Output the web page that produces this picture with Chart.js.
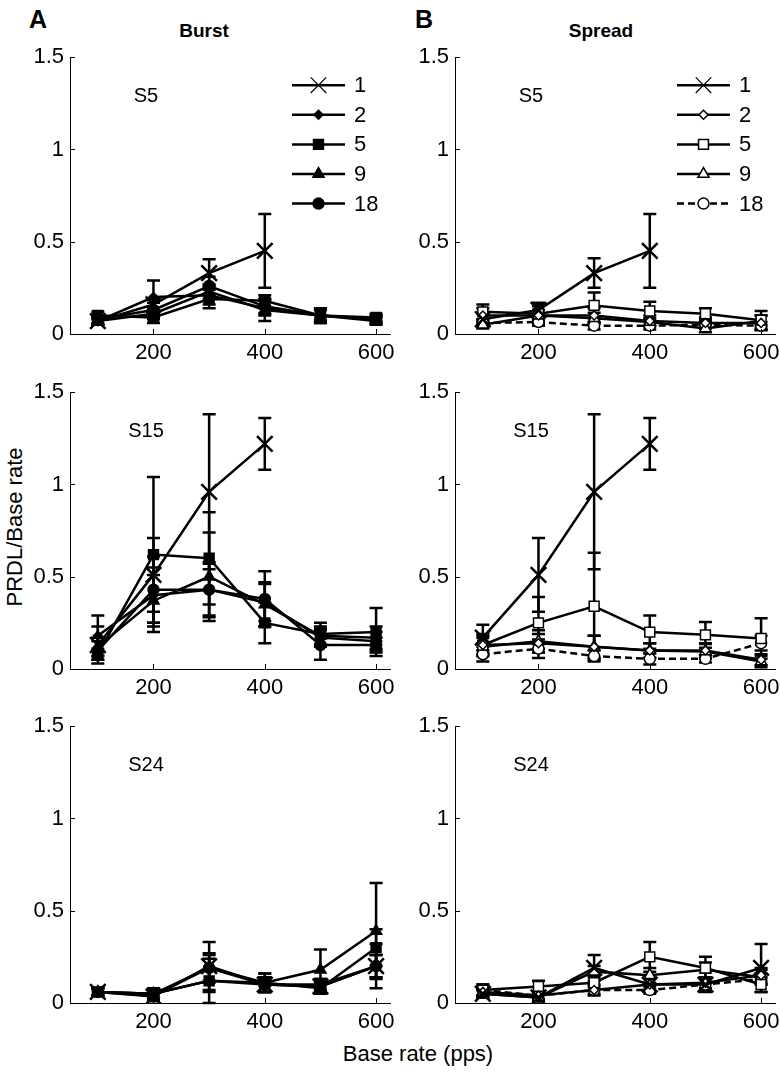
<!DOCTYPE html>
<html>
<head>
<meta charset="utf-8">
<script src="https://cdn.jsdelivr.net/npm/chart.js@4/dist/chart.umd.min.js"></script>
<style>
html,body{margin:0;padding:0;background:#fff;}
body{width:780px;height:1078px;overflow:hidden;position:relative;font-family:'Liberation Sans',Arial,Helvetica,sans-serif;}
.t{position:absolute;transform:translate(-50%,-50%);line-height:1;white-space:nowrap;color:#000;}
canvas{position:absolute;}
</style>
</head>
<body>
<div class="t" style="left:38px;top:19px;font-size:25px;font-weight:bold;">A</div>
<div class="t" style="left:424px;top:19px;font-size:25px;font-weight:bold;">B</div>
<div class="t" style="left:204px;top:30px;font-size:19px;font-weight:bold;">Burst</div>
<div class="t" style="left:601px;top:30px;font-size:19px;font-weight:bold;">Spread</div>
<div class="t" style="left:15px;top:527px;font-size:22px;transform:translate(-50%,-50%) rotate(-90deg);">PRDL/Base rate</div>
<div class="t" style="left:418px;top:1054px;font-size:22px;">Base rate (pps)</div>
<script>
// ---------- data ----------
const baseRates = [100, 200, 300, 400, 500, 600];
const xTickValues = [200, 400, 600];
const yTickValues = [0, 0.5, 1, 1.5];
const yTickLabels = ['0', '0.5', '1', '1.5'];
const seriesNames = ['1', '2', '5', '9', '18'];

// Burst, S5
const burstS5_1 = [0.07, 0.16, 0.33, 0.45, null, null];
const burstS5_2 = [0.07, 0.20, 0.21, 0.14, 0.10, 0.08];
const burstS5_5 = [0.10, 0.09, 0.19, 0.18, 0.10, 0.09];
const burstS5_9 = [0.07, 0.11, 0.23, 0.13, 0.10, 0.07];
const burstS5_18 = [0.08, 0.13, 0.26, 0.15, 0.10, 0.08];
const burstS5_1_err = [0.02, 0.03, 0.075, 0.20, null, null];
const burstS5_2_err = [0.02, 0.09, 0.05, 0.04, 0.04, 0.02];
const burstS5_5_err = [0.02, 0.03, 0.05, 0.03, 0.03, 0.02];
const burstS5_9_err = [0.02, 0.03, 0.04, 0.06, 0.03, 0.02];
const burstS5_18_err = [0.02, 0.04, 0.05, 0.04, 0.04, 0.02];

// Spread, S5
const spreadS5_1 = [0.08, 0.13, 0.33, 0.45, null, null];
const spreadS5_2 = [0.10, 0.10, 0.10, 0.07, 0.06, 0.06];
const spreadS5_5 = [0.12, 0.11, 0.155, 0.125, 0.11, 0.075];
const spreadS5_9 = [0.05, 0.10, 0.085, 0.065, 0.03, 0.07];
const spreadS5_18 = [0.06, 0.065, 0.045, 0.045, 0.05, 0.045];
const spreadS5_1_err = [0.03, 0.04, 0.08, 0.20, null, null];
const spreadS5_2_err = [0.04, 0.05, 0.04, 0.03, 0.03, 0.04];
const spreadS5_5_err = [0.04, 0.05, 0.07, 0.05, 0.03, 0.05];
const spreadS5_9_err = [0.02, 0.03, 0.03, 0.02, 0.02, 0.03];
const spreadS5_18_err = [0.02, 0.02, 0.02, 0.02, 0.02, 0.02];

// Burst, S15
const burstS15_1 = [0.13, 0.51, 0.96, 1.22, null, null];
const burstS15_2 = [0.18, 0.40, 0.43, 0.36, 0.17, 0.15];
const burstS15_5 = [0.08, 0.62, 0.60, 0.25, 0.19, 0.20];
const burstS15_9 = [0.12, 0.37, 0.50, 0.35, 0.18, 0.17];
const burstS15_18 = [0.10, 0.43, 0.43, 0.38, 0.13, 0.13];
const burstS15_1_err = [0.10, 0.20, 0.42, 0.14, null, null];
const burstS15_2_err = [0.11, 0.15, 0.14, 0.10, 0.05, 0.05];
const burstS15_5_err = [0.03, 0.42, 0.25, 0.11, 0.06, 0.13];
const burstS15_9_err = [0.05, 0.14, 0.24, 0.12, 0.05, 0.06];
const burstS15_18_err = [0.05, 0.18, 0.15, 0.15, 0.08, 0.04];

// Spread, S15
const spreadS15_1 = [0.17, 0.51, 0.96, 1.22, null, null];
const spreadS15_2 = [0.13, 0.14, 0.12, 0.10, 0.10, 0.05];
const spreadS15_5 = [0.13, 0.25, 0.34, 0.20, 0.185, 0.165];
const spreadS15_9 = [0.12, 0.15, 0.12, 0.10, 0.095, 0.04];
const spreadS15_18 = [0.08, 0.11, 0.07, 0.055, 0.055, 0.14];
const spreadS15_1_err = [0.07, 0.20, 0.42, 0.14, null, null];
const spreadS15_2_err = [0.05, 0.05, 0.06, 0.04, 0.04, 0.03];
const spreadS15_5_err = [0.06, 0.14, 0.29, 0.09, 0.07, 0.11];
const spreadS15_9_err = [0.05, 0.06, 0.06, 0.04, 0.04, 0.03];
const spreadS15_18_err = [0.04, 0.05, 0.03, 0.03, 0.02, 0.04];

// Burst, S24
const burstS24_1 = [0.06, 0.035, 0.20, 0.10, 0.09, 0.20];
const burstS24_2 = [0.06, 0.05, 0.12, 0.10, 0.10, 0.20];
const burstS24_5 = [0.06, 0.05, 0.12, 0.11, 0.08, 0.30];
const burstS24_9 = [0.06, 0.05, 0.19, 0.11, 0.18, 0.39];
const burstS24_18 = [0.06, 0.04, 0.19, 0.10, 0.09, 0.20];
const burstS24_1_err = [0.02, 0.02, 0.13, 0.04, 0.04, 0.12];
const burstS24_2_err = [0.02, 0.03, 0.06, 0.04, 0.03, 0.06];
const burstS24_5_err = [0.02, 0.03, 0.12, 0.05, 0.03, 0.10];
const burstS24_9_err = [0.02, 0.03, 0.08, 0.05, 0.11, 0.26];
const burstS24_18_err = [0.02, 0.03, 0.07, 0.04, 0.03, 0.06];

// Spread, S24
const spreadS24_1 = [0.05, 0.03, 0.19, 0.10, 0.10, 0.19];
const spreadS24_2 = [0.06, 0.04, 0.07, 0.10, 0.11, 0.15];
const spreadS24_5 = [0.07, 0.09, 0.11, 0.25, 0.19, 0.10];
const spreadS24_9 = [0.05, 0.03, 0.17, 0.15, 0.18, 0.14];
const spreadS24_18 = [0.07, 0.04, 0.07, 0.07, 0.10, 0.13];
const spreadS24_1_err = [0.02, 0.02, 0.07, 0.04, 0.04, 0.13];
const spreadS24_2_err = [0.02, 0.02, 0.03, 0.03, 0.03, 0.04];
const spreadS24_5_err = [0.03, 0.03, 0.04, 0.08, 0.06, 0.04];
const spreadS24_9_err = [0.02, 0.02, 0.03, 0.04, 0.04, 0.04];
const spreadS24_18_err = [0.03, 0.02, 0.02, 0.02, 0.03, 0.03];

// ---------- layout ----------
const FONT = "'Liberation Sans', Arial, Helvetica, sans-serif";
const PW = 320, PH = 280;
const PAD_L = 70, PAD_T = 16, PAD_R = 14, PAD_B = 42;

const panels = [
  {left: 70,  top: 54,  label: 'S5',  open: false, legend: true,
   means: [burstS5_1, burstS5_2, burstS5_5, burstS5_9, burstS5_18],
   errs: [burstS5_1_err, burstS5_2_err, burstS5_5_err, burstS5_9_err, burstS5_18_err]},
  {left: 455, top: 54,  label: 'S5',  open: true, legend: true,
   means: [spreadS5_1, spreadS5_2, spreadS5_5, spreadS5_9, spreadS5_18],
   errs: [spreadS5_1_err, spreadS5_2_err, spreadS5_5_err, spreadS5_9_err, spreadS5_18_err]},
  {left: 70,  top: 389, label: 'S15', open: false, legend: false,
   means: [burstS15_1, burstS15_2, burstS15_5, burstS15_9, burstS15_18],
   errs: [burstS15_1_err, burstS15_2_err, burstS15_5_err, burstS15_9_err, burstS15_18_err]},
  {left: 455, top: 389, label: 'S15', open: true, legend: false,
   means: [spreadS15_1, spreadS15_2, spreadS15_5, spreadS15_9, spreadS15_18],
   errs: [spreadS15_1_err, spreadS15_2_err, spreadS15_5_err, spreadS15_9_err, spreadS15_18_err]},
  {left: 70,  top: 723, label: 'S24', open: false, legend: false,
   means: [burstS24_1, burstS24_2, burstS24_5, burstS24_9, burstS24_18],
   errs: [burstS24_1_err, burstS24_2_err, burstS24_5_err, burstS24_9_err, burstS24_18_err]},
  {left: 455, top: 723, label: 'S24', open: true, legend: false,
   means: [spreadS24_1, spreadS24_2, spreadS24_5, spreadS24_9, spreadS24_18],
   errs: [spreadS24_1_err, spreadS24_2_err, spreadS24_5_err, spreadS24_9_err, spreadS24_18_err]}
];

const markerStyles = [
  {pointStyle: 'crossRot', radius: 11},
  {pointStyle: 'rectRot', radius: 4.5},
  {pointStyle: 'rect', radius: 7},
  {pointStyle: 'triangle', radius: 6.5},
  {pointStyle: 'circle', radius: 5.5}
];

function drawMarker(ctx, style, x, y, open, legendX) {
  const r = style.radius;
  ctx.save();
  ctx.strokeStyle = '#000';
  ctx.fillStyle = open ? '#fff' : '#000';
  ctx.lineWidth = 1.5;
  ctx.beginPath();
  switch (style.pointStyle) {
    case 'crossRot': {
      const h = r * Math.SQRT1_2;
      ctx.lineWidth = legendX ? 1.2 : 2.5;
      ctx.moveTo(x - h, y - h); ctx.lineTo(x + h, y + h);
      ctx.moveTo(x - h, y + h); ctx.lineTo(x + h, y - h);
      ctx.stroke();
      break;
    }
    case 'rectRot':
      ctx.moveTo(x, y - r); ctx.lineTo(x + r, y); ctx.lineTo(x, y + r); ctx.lineTo(x - r, y); ctx.closePath();
      ctx.fill(); ctx.stroke();
      break;
    case 'rect': {
      const s = r * Math.SQRT1_2;
      ctx.rect(x - s, y - s, 2 * s, 2 * s);
      ctx.fill(); ctx.stroke();
      break;
    }
    case 'triangle': {
      ctx.moveTo(x, y - r);
      ctx.lineTo(x + r * Math.sin(2 * Math.PI / 3), y - r * Math.cos(2 * Math.PI / 3));
      ctx.lineTo(x + r * Math.sin(4 * Math.PI / 3), y - r * Math.cos(4 * Math.PI / 3));
      ctx.closePath();
      ctx.fill(); ctx.stroke();
      break;
    }
    default:
      ctx.arc(x, y, r, 0, Math.PI * 2);
      ctx.fill(); ctx.stroke();
  }
  ctx.restore();
}

// error bars, drawn through the chart's scales
const errorBarPlugin = {
  id: 'errorBars',
  beforeDatasetsDraw(chart) {
    const {ctx, scales: {x, y}} = chart;
    ctx.save();
    ctx.strokeStyle = '#000';
    ctx.lineWidth = 2.5;
    chart.data.datasets.forEach(ds => {
      if (!ds.errors) return;
      ds.data.forEach((pt, j) => {
        const e = ds.errors[j];
        if (pt.y == null || e == null) return;
        const px = x.getPixelForValue(pt.x);
        const lo = y.getPixelForValue(Math.max(0, pt.y - e));
        const hi = y.getPixelForValue(pt.y + e);
        ctx.beginPath();
        ctx.moveTo(px, lo); ctx.lineTo(px, hi);
        ctx.moveTo(px - 6.5, lo); ctx.lineTo(px + 6.5, lo);
        ctx.moveTo(px - 6.5, hi); ctx.lineTo(px + 6.5, hi);
        ctx.stroke();
      });
    });
    ctx.restore();
  }
};

// inward tick marks
const innerTickPlugin = {
  id: 'innerTicks',
  afterDraw(chart) {
    const {ctx, chartArea: a, scales: {x, y}} = chart;
    ctx.save();
    ctx.strokeStyle = '#000';
    ctx.lineWidth = 1;
    ctx.beginPath();
    x.ticks.forEach(t => {
      const px = Math.round(x.getPixelForValue(t.value)) + 0.5;
      ctx.moveTo(px, a.bottom); ctx.lineTo(px, a.bottom - 5);
    });
    y.ticks.forEach(t => {
      const py = Math.round(y.getPixelForValue(t.value)) + 0.5;
      ctx.moveTo(a.left, py); ctx.lineTo(a.left + 5, py);
    });
    ctx.stroke();
    ctx.restore();
  }
};

// legend in the upper right of the plot
const lineLegendPlugin = {
  id: 'lineLegend',
  afterDraw(chart, args, opts) {
    if (!opts.show) return;
    const {ctx, chartArea: a} = chart;
    ctx.save();
    chart.data.datasets.forEach((ds, i) => {
      const yy = a.top + 28 + i * 29.6;
      const x0 = a.left + 222, x1 = a.left + 275, xm = (x0 + x1) / 2;
      ctx.strokeStyle = '#000';
      ctx.lineWidth = 2.5;
      ctx.setLineDash(ds.borderDash || []);
      ctx.beginPath(); ctx.moveTo(x0, yy); ctx.lineTo(x1, yy); ctx.stroke();
      ctx.setLineDash([]);
      drawMarker(ctx, markerStyles[i], xm, yy, opts.open, true);
      ctx.fillStyle = '#000';
      ctx.font = '22px ' + FONT;
      ctx.textAlign = 'left';
      ctx.textBaseline = 'middle';
      ctx.fillText(ds.label, a.left + 284, yy + 1);
    });
    ctx.restore();
  }
};

function makePanel(p) {
  const cv = document.createElement('canvas');
  const W = PW + PAD_L + PAD_R, H = PH + PAD_T + PAD_B;
  cv.width = W; cv.height = H;
  cv.style.width = W + 'px'; cv.style.height = H + 'px';
  cv.style.left = (p.left - PAD_L) + 'px';
  cv.style.top = (p.top - PAD_T) + 'px';
  document.body.appendChild(cv);

  const lab = document.createElement('div');
  lab.className = 't';
  lab.style.left = (p.left + 76) + 'px';
  lab.style.top = (p.top + 41) + 'px';
  lab.style.fontSize = '20px';
  lab.textContent = p.label;
  document.body.appendChild(lab);

  const datasets = seriesNames.map((name, i) => ({
    label: name,
    data: baseRates.map((xv, j) => ({x: xv, y: p.means[i][j]})),
    errors: p.errs[i],
    borderColor: '#000',
    borderWidth: 2.5,
    borderDash: (p.open && name === '18') ? [7, 4] : [],
    tension: 0,
    fill: false,
    spanGaps: false,
    pointStyle: markerStyles[i].pointStyle,
    pointRadius: markerStyles[i].radius,
    pointHoverRadius: markerStyles[i].radius,
    pointBackgroundColor: p.open ? '#fff' : '#000',
    pointBorderColor: '#000',
    pointBorderWidth: i === 0 ? 2.5 : 1.5
  }));

  new Chart(cv, {
    type: 'line',
    data: {datasets},
    options: {
      responsive: false,
      animation: false,
      devicePixelRatio: 1,
      events: [],
      layout: {padding: {top: PAD_T, right: PAD_R, left: 0, bottom: 0}},
      plugins: {
        legend: {display: false},
        tooltip: {enabled: false},
        lineLegend: {show: p.legend, open: p.open}
      },
      scales: {
        x: {
          type: 'linear', min: 50, max: 625,
          afterBuildTicks: s => { s.ticks = xTickValues.map(v => ({value: v})); },
          afterFit: s => { s.height = PAD_B; },
          grid: {display: false, drawTicks: false},
          border: {display: true, color: '#000', width: 1},
          ticks: {color: '#000', font: {family: FONT, size: 22}, padding: 6, maxRotation: 0, autoSkip: false}
        },
        y: {
          type: 'linear', min: 0, max: 1.5,
          afterBuildTicks: s => { s.ticks = yTickValues.map(v => ({value: v})); },
          afterFit: s => { s.width = PAD_L; },
          grid: {display: false, drawTicks: false},
          border: {display: true, color: '#000', width: 1},
          ticks: {
            color: '#000', font: {family: FONT, size: 22}, padding: 6,
            callback: (v) => yTickLabels[yTickValues.indexOf(v)] ?? String(v)
          }
        }
      }
    },
    plugins: [errorBarPlugin, innerTickPlugin, lineLegendPlugin]
  });
}

panels.forEach(makePanel);
</script>
</body>
</html>
